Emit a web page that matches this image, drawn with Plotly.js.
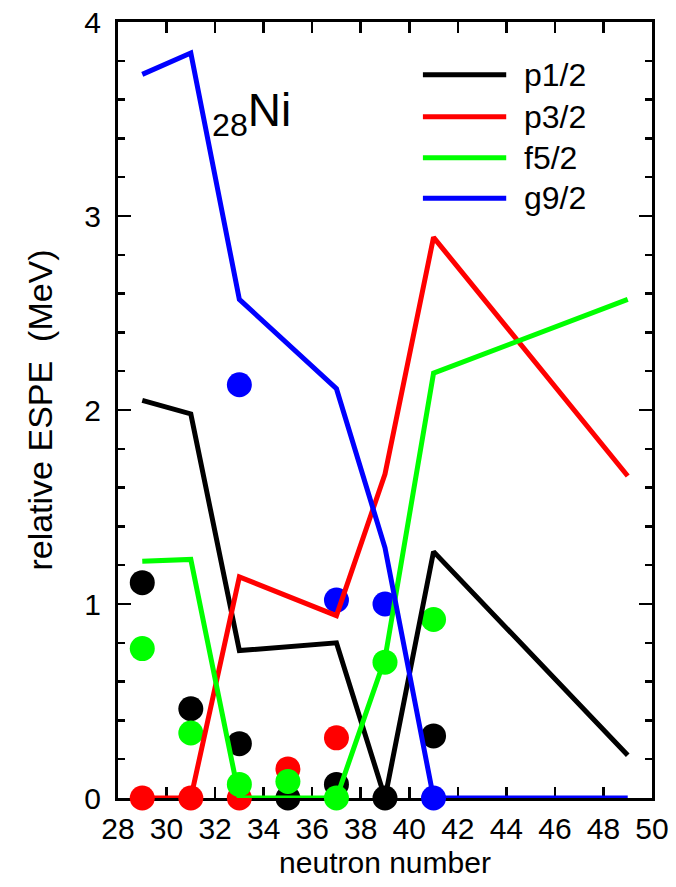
<!DOCTYPE html>
<html>
<head>
<meta charset="utf-8">
<script src="https://cdn.plot.ly/plotly-3.0.1.min.js"></script>
<style>html,body{margin:0;padding:0;background:#fff;}#chart{width:676px;height:887px;}</style>
</head>
<body>
<div id="chart"></div>
<script>
// ---- data ----
const seriesNames = ['p1/2', 'p3/2', 'f5/2', 'g9/2'];
const seriesColors = ['#000000', '#ff0000', '#00ff00', '#0000ff'];

// calculated ESPE lines
const lineN = [29, 31, 33, 37, 39, 41, 49];
const lineP12 = [2.05, 1.98, 0.76, 0.80, 0.00, 1.27, 0.22];
const lineP32 = [0.00, 0.00, 1.14, 0.94, 1.67, 2.89, 1.66];
const lineF52 = [1.22, 1.23, 0.00, 0.00, 0.72, 2.19, 2.57];
const lineG92 = [3.73, 3.84, 2.57, 2.11, 1.29, 0.00, 0.00];

// experimental points
const dotP12N = [29, 31, 33, 35, 37, 39, 41];
const dotP12 = [1.11, 0.46, 0.28, 0.00, 0.07, 0.00, 0.32];
const dotP32N = [29, 31, 33, 35, 37];
const dotP32 = [0.00, 0.00, 0.00, 0.15, 0.31];
const dotF52N = [29, 31, 33, 35, 37, 39, 41];
const dotF52 = [0.77, 0.335, 0.07, 0.085, 0.00, 0.70, 0.92];
const dotG92N = [33, 37, 39, 41];
const dotG92 = [2.13, 1.02, 1.00, 0.00];

const xTickVals = [28, 30, 32, 34, 36, 38, 40, 42, 44, 46, 48, 50];
const yTickVals = [0, 1, 2, 3, 4];

// ---- build ----
const FONT = 'Liberation Sans, Arial, Helvetica, sans-serif';
const lineSets = [lineP12, lineP32, lineF52, lineG92];
const dotSets = [[dotP12N, dotP12], [dotP32N, dotP32], [dotF52N, dotF52], [dotG92N, dotG92]];

const traces = [];
dotSets.forEach((d, i) => {
  traces.push({
    type: 'scatter', mode: 'markers', x: d[0], y: d[1],
    marker: {color: seriesColors[i], size: 25, line: {width: 0}},
    cliponaxis: false, showlegend: false, hoverinfo: 'skip'
  });
});
lineSets.forEach((ys, i) => {
  traces.push({
    type: 'scatter', mode: 'lines', x: lineN, y: ys, name: seriesNames[i],
    line: {color: seriesColors[i], width: 5},
    cliponaxis: false, showlegend: false
  });
});

// manual legend (paper coordinates)
const legX0 = 0.571, legX1 = 0.727, legTx = 0.757;
const legY = [0.932, 0.878, 0.825, 0.773];
const shapes = [];
const annotations = [];
seriesNames.forEach((n, i) => {
  shapes.push({type: 'line', xref: 'paper', yref: 'paper', x0: legX0, x1: legX1, y0: legY[i], y1: legY[i],
    line: {color: seriesColors[i], width: 5}});
  annotations.push({xref: 'paper', yref: 'paper', x: legTx, y: legY[i], xanchor: 'left', yanchor: 'middle',
    text: n, showarrow: false, font: {family: FONT, size: 32, color: '#000'}});
});
annotations.push({xref: 'paper', yref: 'paper', x: 0.172, y: 0.882, xanchor: 'left', yanchor: 'middle',
  text: '<sub>28</sub>Ni', showarrow: false, font: {family: FONT, size: 46, color: '#000'}});

const layout = {
  width: 676, height: 887,
  margin: {l: 118, r: 24, t: 22, b: 89, pad: 0},
  paper_bgcolor: '#fff', plot_bgcolor: '#fff',
  font: {family: FONT, color: '#000'},
  xaxis: {
    range: [28, 50], tickvals: xTickVals, ticktext: xTickVals.map(String),
    ticks: 'inside', ticklen: 11, tickwidth: 2.5, tickcolor: '#000',
    showline: true, linewidth: 3, linecolor: '#000', mirror: 'ticks',
    showgrid: false, zeroline: false, layer: 'below traces',
    tickfont: {family: FONT, size: 30, color: '#000'}, ticklabelstandoff: 2,
    title: {text: 'neutron number', font: {family: FONT, size: 30, color: '#000'}, standoff: 8}
  },
  yaxis: {
    range: [0, 4], tickvals: yTickVals, ticktext: yTickVals.map(String),
    ticks: 'inside', ticklen: 13, tickwidth: 2.5, tickcolor: '#000',
    minor: {dtick: 0.2, ticks: 'inside', ticklen: 7, tickwidth: 2.5, tickcolor: '#000', showgrid: false},
    showline: true, linewidth: 3, linecolor: '#000', mirror: 'ticks',
    showgrid: false, zeroline: false, layer: 'below traces',
    tickfont: {family: FONT, size: 30, color: '#000'}, ticklabelstandoff: 8,
    title: {text: 'relative ESPE  (MeV)', font: {family: FONT, size: 34, color: '#000'}, standoff: 22}
  },
  shapes: shapes,
  annotations: annotations,
  showlegend: false
};

Plotly.newPlot('chart', traces, layout, {displayModeBar: false, staticPlot: true});
</script>
</body>
</html>
